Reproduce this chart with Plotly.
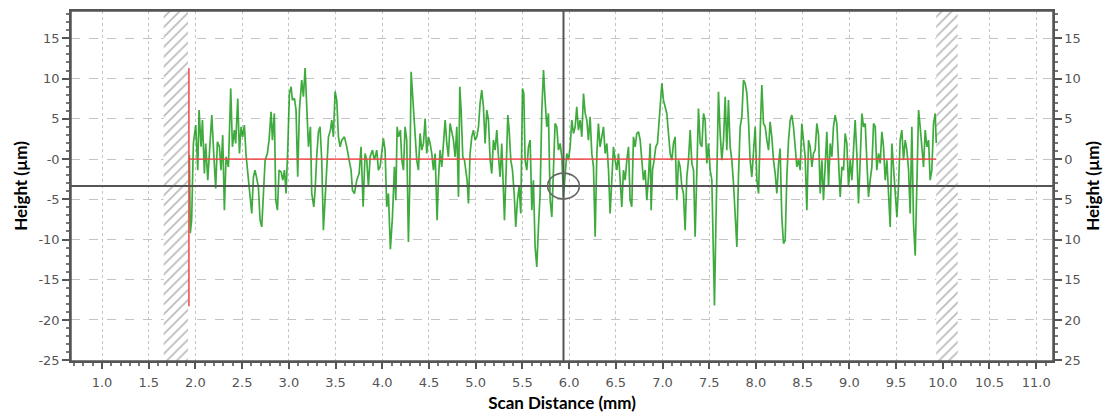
import plotly.graph_objects as go

# ---- data ----
scan_mm = [
    1.935, 1.945, 1.960, 1.978, 2.003, 2.025, 2.039, 2.060, 2.075, 2.096, 2.110, 2.132, 2.157, 2.175, 2.196, 2.217,
    2.235, 2.257, 2.274, 2.292, 2.310, 2.328, 2.353, 2.378, 2.396, 2.417, 2.431, 2.453, 2.471, 2.489, 2.506, 2.524,
    2.542, 2.560, 2.585, 2.603, 2.621, 2.638, 2.653, 2.674, 2.692, 2.710, 2.728, 2.746, 2.770, 2.788, 2.810, 2.824,
    2.845, 2.860, 2.878, 2.895, 2.917, 2.935, 2.953, 2.970, 2.988, 3.006, 3.024, 3.038, 3.060, 3.077, 3.095, 3.113,
    3.138, 3.156, 3.174, 3.192, 3.210, 3.231, 3.245, 3.267, 3.281, 3.299, 3.317, 3.334, 3.352, 3.370, 3.388, 3.406,
    3.424, 3.445, 3.459, 3.477,
    3.495, 3.513, 3.531, 3.549, 3.566, 3.595, 3.620, 3.645, 3.666, 3.681, 3.702, 3.727, 3.752, 3.773, 3.795, 3.816,
    3.834, 3.852, 3.870, 3.895, 3.916, 3.941, 3.959, 3.977, 3.995, 4.012, 4.030, 4.048, 4.066, 4.087, 4.109, 4.130,
    4.145, 4.159, 4.173, 4.194, 4.209, 4.227, 4.244, 4.262, 4.280, 4.294, 4.309, 4.323, 4.337, 4.352, 4.369, 4.387,
    4.405, 4.423, 4.441, 4.459, 4.476, 4.494, 4.512, 4.530, 4.548, 4.566, 4.587, 4.601, 4.619, 4.637, 4.655, 4.673,
    4.691, 4.708, 4.726, 4.744, 4.762, 4.780, 4.798, 4.816, 4.830, 4.844, 4.862, 4.880, 4.894, 4.908, 4.923, 4.940,
    4.958, 4.976, 4.994, 5.012, 5.030, 5.047, 5.065, 5.083,
    5.101, 5.119, 5.137, 5.155, 5.172, 5.190, 5.208, 5.226, 5.244, 5.262, 5.279, 5.297, 5.308, 5.326, 5.344, 5.358,
    5.376, 5.394, 5.412, 5.429, 5.447, 5.465, 5.483, 5.501, 5.515, 5.529, 5.547, 5.565, 5.583, 5.601, 5.618, 5.636,
    5.654, 5.672, 5.690, 5.708, 5.726, 5.743, 5.761, 5.779, 5.797, 5.815, 5.833, 5.850, 5.868, 5.886, 5.904, 5.922,
    5.940, 5.958, 5.975, 5.993, 6.011, 6.029, 6.047, 6.065, 6.082, 6.100, 6.118, 6.136, 6.154, 6.172, 6.190, 6.207,
    6.225, 6.243, 6.261, 6.279, 6.297, 6.314, 6.332, 6.350, 6.368, 6.386, 6.404, 6.422, 6.439, 6.457, 6.475, 6.493,
    6.511, 6.529, 6.546, 6.564, 6.582, 6.600, 6.618, 6.636, 6.653, 6.671, 6.689,
    6.707, 6.725, 6.743, 6.761, 6.778, 6.796, 6.814, 6.832, 6.850, 6.868, 6.878, 6.893, 6.910, 6.928, 6.946, 6.964,
    6.982, 6.993, 7.010, 7.028, 7.046, 7.064, 7.082, 7.100, 7.117, 7.135, 7.153, 7.171, 7.189, 7.207, 7.224, 7.242,
    7.260, 7.278, 7.296, 7.314, 7.332, 7.349, 7.367, 7.385, 7.403, 7.421, 7.439, 7.456, 7.474, 7.492, 7.510, 7.528,
    7.546, 7.556, 7.571, 7.585, 7.599, 7.617, 7.635, 7.653, 7.671, 7.688, 7.706, 7.724, 7.742, 7.760, 7.778, 7.796,
    7.813, 7.831, 7.849, 7.867, 7.885, 7.903, 7.920, 7.938, 7.956, 7.974, 7.992, 8.010, 8.028, 8.045, 8.063, 8.081,
    8.099, 8.117, 8.135, 8.152, 8.170, 8.188, 8.206, 8.224, 8.242, 8.259, 8.277, 8.295,
    8.313, 8.331, 8.349, 8.367, 8.384, 8.402, 8.420, 8.438, 8.456, 8.474, 8.491, 8.509, 8.527, 8.545, 8.563, 8.581,
    8.599, 8.616, 8.634, 8.652, 8.670, 8.688, 8.706, 8.723, 8.741, 8.759, 8.777, 8.795, 8.813, 8.830, 8.848, 8.866,
    8.884, 8.902, 8.920, 8.938, 8.955, 8.973, 8.991, 9.009, 9.027, 9.045, 9.062, 9.080, 9.098, 9.116, 9.134, 9.152,
    9.170, 9.187, 9.205, 9.223, 9.241, 9.259, 9.277, 9.294, 9.312, 9.330, 9.348, 9.366, 9.384, 9.402, 9.419, 9.437,
    9.455, 9.473, 9.491, 9.509, 9.526, 9.544, 9.562, 9.580, 9.598, 9.616, 9.634, 9.651, 9.669, 9.687, 9.705, 9.723,
    9.741, 9.758, 9.776, 9.794, 9.812, 9.830, 9.848, 9.865, 9.883, 9.901, 9.919, 9.930,
]

height_um = [
    0.5, -9.2, -7.5, 1.94, 4.22, -1.38, 6.08, 1.52, 4.84, -1.8, 1.94, -2.63, 2.14, 5.46, 0.69, -3.66,
    2.14, 1.52, -1.38, 2.97, -6.36, 0.28, -0.97, 8.78, 1.52, 3.59, 1.94, 7.53, 0.69, 4.01, 2.76, 4.22,
    0.48, -1.59, -4.7, -6.77, -2.21, -1.38, -2.21, -3.45, -7.6, -8.43, -4.28, -0.14, 0.69, 2.35, 5.87, 2.35,
    5.67, -5.11, -6.36, -1.38, -1.59, -2.63, -1.38, -4.28, 1.11, 8.15, 8.98, 7.32, 7.53, 6.08, -2.21, 6.08,
    9.81, 7.74, 11.3, 6.5, 1.52, 4.01, -4.28, -5.94, -3.87, 0.48, 3.39, 4.01, -0.14, -8.84, -5.11, -2.21,
    2.76, 3.59, 4.84, 2.76,
    8.4, 7.32, 2.76, 1.52, 2.35, 2.76, 1.52, -0.14, -1.38, -3.87, -4.28, -2.63, -1.8, 1.52, -5.94, 0.69,
    -0.14, -3.45, 0.28, 1.11, -0.14, 1.11, -1.38, -0.97, 0.69, 2.56, 1.11, -5.94, -4.28, -11.2, -7.19, -0.97,
    -5.11, 4.01, 2.76, 3.59, -0.14, -1.38, 4.01, 2.35, -10.3, -3.45, 10.85, 8.15, 6.08, 1.94, -0.14, -1.38,
    3.18, 1.11, 1.94, 5.04, 0.69, 2.76, 1.94, 0.69, -1.38, 0.69, -7.6, -2.63, 1.11, -0.97, 1.52, 4.84,
    1.94, 0.28, 4.42, 3.18, 2.35, 0.28, 4.01, -4.7, 8.98, 6.08, 0.28, -0.14, -1.38, -2.63, -5.53, 0.69,
    2.76, 3.59, 2.35, 2.76, 4.01, 6.91, 8.57, 6.5,
    1.94, 6.08, 4.84, -0.14, -1.8, 2.35, 1.11, 3.59, 0.28, -2.21, 1.94, -4.28, -7.6, -1.38, 5.46, 3.59,
    -0.14, -1.38, -4.28, -8.43, -5.11, -3.45, -6.77, 8.78, 8.15, -0.14, -1.38, 1.52, 2.35, -6.36, -2.63, -10.92,
    -13.4, -8.43, -4.28, 6.08, 11.06, 7.32, 4.01, 5.67, -5.11, -7.19, -2.21, 4.42, 4.01, 1.11, 1.94, 0.28,
    -4.7, -1.38, 0.69, -0.14, 1.52, 4.84, 3.18, 4.01, 6.5, 3.59, 4.84, 2.76, 8.15, 5.67, 4.84, 2.35,
    5.25, 0.69, -0.97, -9.67, 0.69, 4.42, 1.52, 2.76, 4.01, 0.69, 1.94, -1.38, -6.77, -2.63, 1.52, -0.14,
    -1.38, 0.69, -2.21, -5.94, -1.38, -2.63, -0.14, 1.52, -5.11, -5.94, 2.76,
    1.52, 3.18, 3.39, 2.35, -0.14, -2.63, -1.38, -5.11, -2.21, 1.94, -6.36, -1.38, -0.14, 1.52, 1.94, 4.84,
    8.15, 9.4, 7.32, 6.5, 5.67, 3.18, 0.69, -0.14, 1.94, 2.76, -5.11, -0.14, -0.97, -3.45, -4.28, -8.84,
    -2.21, -0.14, 3.59, -0.55, -1.38, -9.67, -0.55, 6.29, 1.94, 1.52, 5.67, 4.84, -0.55, 1.94, -1.38, -2.63,
    -12.58, -18.2, -8.43, 0.69, 8.36, 3.18, -0.14, 2.35, 7.74, 1.11, 7.32, 1.52, -0.14, -3.04, -6.36, -10.92,
    -2.21, 4.01, 5.25, 9.81, 9.4, 8.15, 4.84, -0.14, -2.21, 1.11, 4.01, -2.63, -4.28, 3.18, 9.19, 4.42,
    4.01, 2.35, 1.11, 4.63, 2.76, -0.14, -1.8, -4.28, -0.55, 1.31, -7.19, -10.5,
    -10.09, -2.21, 2.35, 4.84, 5.46, 4.01, 1.52, -0.97, -0.14, -1.38, 4.42, 1.94, 0.28, -6.36, 2.35, 1.52,
    -0.97, 0.69, 1.11, 4.42, 3.0, -4.28, -0.14, -5.11, 0.28, 3.39, -3.45, 1.94, 0.28, 4.01, 5.46, 4.42,
    -0.14, -4.7, -0.97, -1.38, 3.18, 1.94, -3.45, -0.14, -2.63, 1.11, 4.84, 0.69, -5.53, -0.14, 5.67, 4.01,
    4.42, -0.14, -4.7, -2.63, -0.97, 4.42, 4.01, -1.38, 0.69, -0.55, 3.39, 1.52, -2.63, -0.14, -3.45, -8.43,
    1.94, -1.38, -4.7, -7.19, -3.45, 2.35, 3.59, -0.14, 2.35, 1.11, -1.38, -6.77, 4.01, -8.01, -12.0, -1.38,
    6.08, 4.01, 1.94, -0.97, 3.59, 1.52, 2.35, -2.63, -1.38, 4.42, 5.67, 2.0,
]

x_tick_values = [1.0, 1.5, 2.0, 2.5, 3.0, 3.5, 4.0, 4.5, 5.0, 5.5, 6.0, 6.5, 7.0, 7.5, 8.0, 8.5, 9.0, 9.5, 10.0, 10.5, 11.0]
x_tick_labels = ["1.0", "1.5", "2.0", "2.5", "3.0", "3.5", "4.0", "4.5", "5.0", "5.5", "6.0", "6.5", "7.0",
                 "7.5", "8.0", "8.5", "9.0", "9.5", "10.0", "10.5", "11.0"]
y_tick_values = [-25, -20, -15, -10, -5, 0, 5, 10, 15]
y_tick_labels = ["-25", "-20", "-15", "-10", "-5", "-0", "5", "10", "15"]
y_tick_labels_right = ["25", "20", "15", "10", "5", "0", "5", "10", "15"]

excluded_left = [1.66, 1.92]       # hatched (excluded) zones, mm
excluded_right = [9.93, 10.16]
reference_start = 1.93             # red reference line
reference_end = 9.93
reference_level = 0.0
reference_bar_low = -18.3
reference_bar_high = 11.3
cursor_x = 5.94                    # crosshair cursor
cursor_y = -3.35

x_range = [0.668, 11.18]
y_range = [-25.1, 18.4]

# ---- figure ----
fig = go.Figure()

hatch = dict(shape="/", fgcolor="#7a7a7a", bgcolor="white", size=7, solidity=0.25)
for zone in (excluded_left, excluded_right):
    fig.add_trace(go.Scatter(
        x=[zone[0], zone[1], zone[1], zone[0], zone[0]],
        y=[y_range[0], y_range[0], y_range[1], y_range[1], y_range[0]],
        mode="lines", fill="toself", fillcolor="white", fillpattern=hatch,
        line=dict(width=0), hoverinfo="skip", showlegend=False))

fig.add_trace(go.Scatter(
    x=scan_mm, y=height_um, mode="lines",
    line=dict(color="rgba(15,150,15,0.8)", width=1.7),
    showlegend=False, name="Profile"))

# reference (red) lines
fig.add_trace(go.Scatter(
    x=[reference_start, reference_end], y=[reference_level, reference_level], mode="lines",
    line=dict(color="rgba(240,70,70,0.85)", width=1.8), showlegend=False, hoverinfo="skip"))
fig.add_trace(go.Scatter(
    x=[reference_start, reference_start], y=[reference_bar_low, reference_bar_high], mode="lines",
    line=dict(color="rgba(240,70,70,0.85)", width=1.8), showlegend=False, hoverinfo="skip"))

# dummy trace to anchor the right-hand axis
fig.add_trace(go.Scatter(x=[cursor_x], y=[cursor_y], yaxis="y2", mode="markers",
                         marker=dict(opacity=0), showlegend=False, hoverinfo="skip"))

# crosshair cursor
fig.add_shape(type="line", xref="x", yref="paper", x0=cursor_x, x1=cursor_x, y0=0, y1=1,
              line=dict(color="#555555", width=2), layer="above")
fig.add_shape(type="line", xref="paper", yref="y", x0=0, x1=1, y0=cursor_y, y1=cursor_y,
              line=dict(color="#555555", width=2), layer="above")
fig.add_shape(type="circle", xref="x", yref="y",
              x0=cursor_x - 0.17, x1=cursor_x + 0.17, y0=cursor_y - 1.6, y1=cursor_y + 1.6,
              line=dict(color="#666666", width=1.6), layer="above")
# plot frame
fig.add_shape(type="rect", xref="paper", yref="paper", x0=0, x1=1, y0=0, y1=1,
              line=dict(color="#555555", width=1.5), layer="above")

tick_font = dict(family="DejaVu Sans", size=13, color="#555555")
title_font = dict(family="Lato", size=17, color="black")

# page body has an 8 px default margin, so the figure is sized/margined to land the plot
fig.update_layout(
    width=1108, height=410,
    margin=dict(l=63, r=63, t=3, b=57),
    plot_bgcolor="white", paper_bgcolor="white",
    xaxis=dict(
        range=x_range, tickvals=x_tick_values, ticktext=x_tick_labels, automargin=False,
        ticks="outside", ticklen=6, tickwidth=1.5, tickcolor="#555555", ticklabelstandoff=3,
        minor=dict(ticks="outside", dtick=0.1, tick0=0, ticklen=3, tickcolor="#777777", showgrid=False),
        showgrid=True, gridcolor="#c4c4c4", griddash="dot", gridwidth=1,
        showline=True, linecolor="#555555", linewidth=1.5, mirror=True,
        zeroline=False, tickfont=tick_font,
        title=dict(text="<b>Scan Distance (mm)</b>", font=title_font, standoff=8),
    ),
    yaxis=dict(
        range=y_range, tickvals=y_tick_values, ticktext=y_tick_labels, automargin=False,
        ticks="outside", ticklen=7, tickwidth=1.5, tickcolor="#555555",
        minor=dict(ticks="outside", dtick=1, tick0=0, ticklen=3, tickcolor="#777777", showgrid=False),
        showgrid=True, gridcolor="#c4c4c4", griddash="dash", gridwidth=1,
        showline=True, linecolor="#555555", linewidth=1.5, mirror=True,
        zeroline=False, tickfont=tick_font,
        title=dict(text="<b>Height (µm)</b>", font=title_font, standoff=6),
    ),
    yaxis2=dict(
        range=y_range, overlaying="y", side="right", automargin=False,
        tickvals=y_tick_values, ticktext=y_tick_labels_right,
        ticks="outside", ticklen=7, tickwidth=1.5, tickcolor="#555555",
        minor=dict(ticks="outside", dtick=1, tick0=0, ticklen=3, tickcolor="#777777"),
        showgrid=False, zeroline=False,
        showline=True, linecolor="#555555", linewidth=1.5,
        tickfont=tick_font,
        title=dict(text="<b>Height (µm)</b>", font=title_font, standoff=7),
    ),
)

fig.write_html("out.html")
